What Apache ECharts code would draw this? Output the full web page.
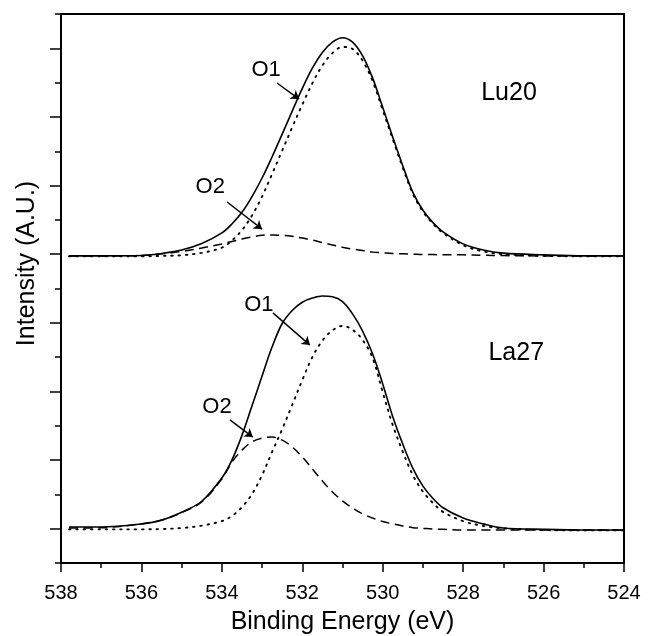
<!DOCTYPE html>
<html>
<head>
<meta charset="utf-8">
<script src="https://cdn.jsdelivr.net/npm/echarts@6/dist/echarts.min.js"></script>
<style>
    html, body { margin: 0; padding: 0; background: #fff; }
    #main { width: 651px; height: 636px; }
</style>
</head>
<body>
<div id="main"></div>
<script>
    // binding energy grid (eV)
    var energy = [537.8, 537, 536, 535.5, 535, 534.5, 534, 533.75, 533.5, 533.25, 533, 532.75, 532.5, 532.25,
        532, 531.75, 531.5, 531.25, 531, 530.75, 530.5, 530.25, 530, 529.75, 529.5, 529.25, 529, 528.75,
        528.5, 528, 527.5, 527, 526, 525, 524];

    // Lu20 (upper spectrum)
    var lu20Total = [8.95, 8.95, 8.96, 9.02, 9.12, 9.31, 9.62, 9.88, 10.22, 10.68, 11.22, 11.84, 12.50, 13.17,
        13.83, 14.42, 14.88, 15.18, 15.31, 15.18, 14.78, 14.13, 13.28, 12.41, 11.57, 10.80, 10.28, 9.92,
        9.65, 9.30, 9.12, 9.03, 8.98, 8.95, 8.95];
    var lu20O1 = [8.94, 8.94, 8.94, 8.95, 8.97, 9.04, 9.19, 9.40, 9.70, 10.13, 10.68, 11.34, 12.02, 12.70,
        13.36, 13.98, 14.50, 14.86, 15.04, 14.98, 14.64, 14.04, 13.20, 12.35, 11.52, 10.76, 10.24, 9.89,
        9.62, 9.26, 9.08, 9.00, 8.95, 8.94, 8.94];
    var lu20O2 = [8.95, 8.95, 8.96, 9.01, 9.08, 9.18, 9.30, 9.37, 9.44, 9.50, 9.55, 9.56, 9.55, 9.52,
        9.47, 9.41, 9.34, 9.27, 9.20, 9.15, 9.11, 9.06, 9.04, 9.02, 9.01, 9.00, 8.99, 8.99,
        8.98, 8.98, 8.97, 8.96, 8.95, 8.95, 8.95];

    // La27 (lower spectrum)
    var la27Total = [1.05, 1.05, 1.14, 1.25, 1.48, 1.80, 2.48, 3.00, 3.72, 4.58, 5.45, 6.30, 6.98, 7.36,
        7.60, 7.72, 7.78, 7.76, 7.62, 7.26, 6.76, 6.09, 5.22, 4.26, 3.46, 2.76, 2.24, 1.88,
        1.61, 1.31, 1.14, 1.02, 0.98, 0.96, 0.96];
    var la27O1 = [0.98, 0.98, 0.98, 0.99, 1.02, 1.09, 1.22, 1.37, 1.63, 2.01, 2.56, 3.24, 3.90, 4.61,
        5.33, 6.00, 6.48, 6.78, 6.91, 6.80, 6.50, 5.97, 4.98, 4.02, 3.24, 2.56, 2.08, 1.75,
        1.49, 1.22, 1.08, 1.01, 0.96, 0.95, 0.95];
    var la27O2 = [1.02, 1.03, 1.14, 1.25, 1.47, 1.78, 2.45, 2.94, 3.29, 3.53, 3.64, 3.67, 3.58, 3.38,
        3.09, 2.74, 2.39, 2.07, 1.81, 1.60, 1.43, 1.31, 1.21, 1.14, 1.08, 1.03, 1.01, 0.99,
        0.98, 0.96, 0.96, 0.96, 0.96, 0.96, 0.96];

    var xTicks = [538, 536, 534, 532, 530, 528, 526, 524];

    var FONT = 'Liberation Sans, Arial, sans-serif';

    function pairs(vals) {
        return energy.map(function (e, i) { return [e, vals[i]]; });
    }

    // text labels and arrows, in data coordinates
    var notes = [
        {text: 'O1', at: [532.90, 14.37], from: [532.63, 13.99], to: [532.08, 13.52], size: 22},
        {text: 'O2', at: [534.29, 10.96], from: [533.87, 10.52], to: [533.00, 9.73], size: 22},
        {text: 'Lu20', at: [526.86, 13.70], size: 25},
        {text: 'O1', at: [533.08, 7.52], from: [532.73, 7.29], to: [531.81, 6.35], size: 22},
        {text: 'O2', at: [534.12, 4.55], from: [533.80, 4.17], to: [533.23, 3.67], size: 22},
        {text: 'La27', at: [526.68, 6.12], size: 25}
    ];

    function line(name, vals, type) {
        var ls = {color: '#000', width: 1.6, type: 'solid'};
        if (type === 'dotted') {
            ls = {color: '#000', width: 1.9, type: [1.5, 5.8], cap: 'round'};
        } else if (type === 'dashed') {
            ls = {color: '#000', width: 1.5, type: [9, 5.5]};
        }
        return {
            name: name,
            type: 'line',
            data: pairs(vals),
            smooth: 0.35,
            symbol: 'none',
            silent: true,
            lineStyle: ls
        };
    }

    var series = [
        line('Lu20 total', lu20Total, 'solid'),
        line('Lu20 O1', lu20O1, 'dotted'),
        line('Lu20 O2', lu20O2, 'dashed'),
        line('La27 total', la27Total, 'solid'),
        line('La27 O1', la27O1, 'dotted'),
        line('La27 O2', la27O2, 'dashed')
    ];

    series[0].markLine = {
        silent: true,
        symbol: ['none', 'arrow'],
        symbolSize: 8,
        label: {show: false},
        lineStyle: {color: '#000', width: 1.4, type: 'solid'},
        data: notes.filter(function (n) { return n.from; }).map(function (n) {
            return [{coord: n.from}, {coord: n.to}];
        })
    };
    series[0].markPoint = {
        silent: true,
        symbol: 'circle',
        symbolSize: 1,
        itemStyle: {color: 'rgba(0,0,0,0)'},
        data: notes.map(function (n) {
            return {
                coord: n.at,
                label: {show: true, position: 'inside', formatter: n.text, fontSize: n.size,
                    fontFamily: FONT, color: '#000'}
            };
        })
    };

    var myChart = echarts.init(document.getElementById('main'));
    myChart.setOption({
        animation: false,
        backgroundColor: '#fff',
        grid: {
            left: 61, right: 27, top: 14, bottom: 73,
            outerBoundsMode: 'none',
            show: true, borderColor: '#000', borderWidth: 2
        },
        xAxis: {
            type: 'value',
            min: 524,
            max: 538,
            interval: 2,
            inverse: true,
            name: 'Binding Energy (eV)',
            nameLocation: 'middle',
            nameGap: 47,
            nameTextStyle: {fontSize: 25, fontFamily: FONT, color: '#000'},
            axisLine: {lineStyle: {color: '#000', width: 2}},
            axisTick: {length: 9, lineStyle: {color: '#000', width: 1.5}},
            minorTick: {show: true, splitNumber: 2, length: 5, lineStyle: {color: '#000', width: 1.5}},
            axisLabel: {
                fontSize: 20, fontFamily: FONT, color: '#000', margin: 20,
                formatter: function (v) { return xTicks.indexOf(v) >= 0 ? String(v) : ''; }
            },
            splitLine: {show: false},
            minorSplitLine: {show: false}
        },
        yAxis: {
            type: 'value',
            min: 0,
            max: 16,
            interval: 2,
            name: 'Intensity (A.U.)',
            nameLocation: 'middle',
            nameGap: 21,
            nameTextStyle: {fontSize: 25, fontFamily: FONT, color: '#000', padding: [0, 0, 0, 50]},
            axisLine: {show: true, lineStyle: {color: '#000', width: 2}},
            axisTick: {show: true, length: 6, lineStyle: {color: '#000', width: 1.5}},
            minorTick: {show: true, splitNumber: 2, length: 11, lineStyle: {color: '#000', width: 1.5}},
            axisLabel: {show: false},
            splitLine: {show: false},
            minorSplitLine: {show: false}
        },
        series: series
    });
</script>
</body>
</html>
